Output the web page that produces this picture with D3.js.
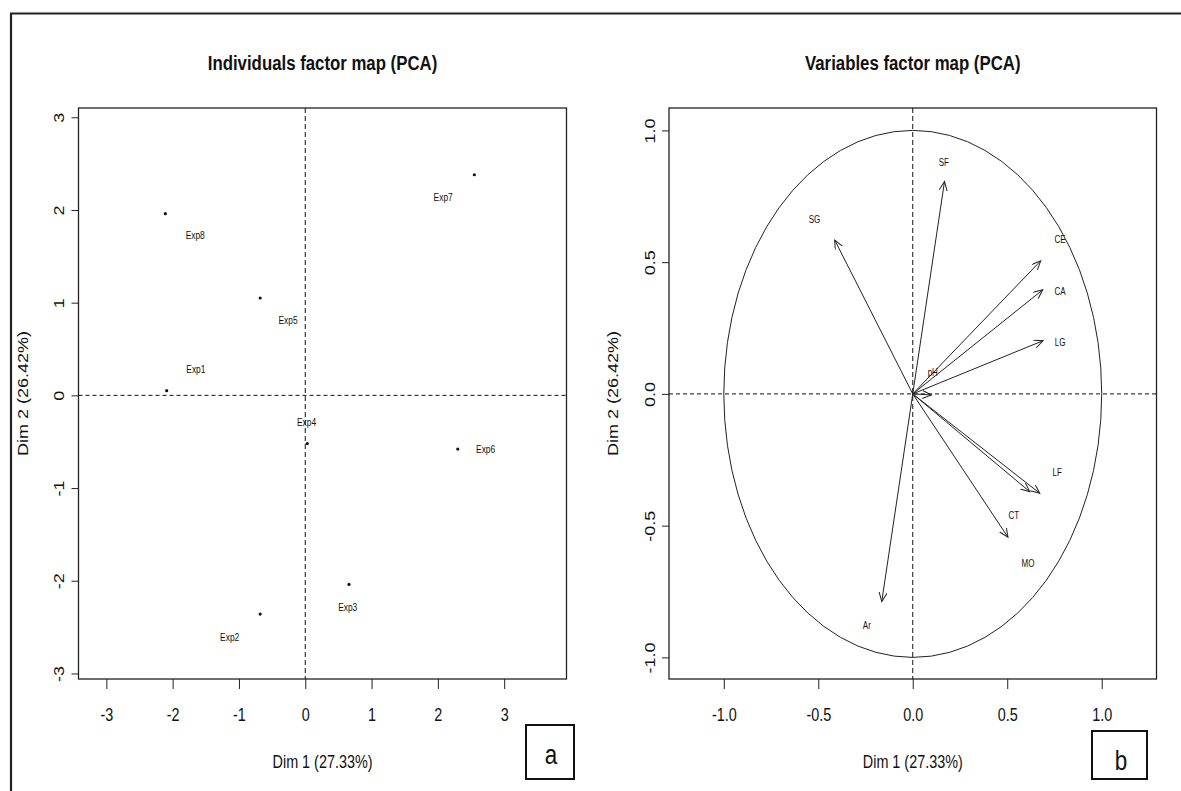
<!DOCTYPE html>
<html>
<head>
<meta charset="utf-8">
<script src="https://cdn.jsdelivr.net/npm/d3@7"></script>
<style>
  body { margin: 0; background: #fff; }
  text { font-family: "Liberation Sans", Arial, sans-serif; fill: #111; }
</style>
</head>
<body>
<div id="chart"></div>
<script>

//********************* DATA ************************************

// individuals (Dim 1, Dim 2) and where their labels sit, in data units
var indNames  = ["Exp1", "Exp2", "Exp3", "Exp4", "Exp5", "Exp6", "Exp7", "Exp8"];
var indDim1   = [-2.09, -0.68,  0.66,  0.03, -0.68,  2.30,  2.55, -2.11];
var indDim2   = [ 0.05, -2.36, -2.04, -0.52,  1.05, -0.58,  2.38,  1.96];
var indLabelX = [-1.65, -1.14,  0.64,  0.02, -0.26,  2.72,  2.08, -1.66];
var indLabelY = [ 0.28, -2.61, -2.29, -0.29,  0.81, -0.58,  2.14,  1.73];

// variables (correlation with Dim 1, Dim 2) and label spots
var varNames  = ["SF",  "SG",   "CE",  "CA",  "LG",  "pH",   "LF",   "CT",   "MO",   "Ar"];
var varDim1   = [0.168, -0.413, 0.677, 0.688, 0.690, 0.099,  0.672,  0.619,  0.504, -0.164];
var varDim2   = [0.806,  0.584, 0.505, 0.395, 0.202, -0.004, -0.377, -0.371, -0.544, -0.788];
var varLabelX = [0.164, -0.520, 0.780, 0.780, 0.780, 0.106,  0.764,  0.535,  0.610, -0.243];
var varLabelY = [0.880,  0.660, 0.585, 0.390, 0.196, 0.080,  -0.300, -0.463, -0.645, -0.880];

var indTicks = [-3, -2, -1, 0, 1, 2, 3];
var varTicks = [-1.0, -0.5, 0.0, 0.5, 1.0];

var xLabel = "Dim 1 (27.33%)";
var yLabel = "Dim 2 (26.42%)";


//********************* DIMENSIONS ************************************

var width = 1181,
    height = 791,
    squeeze = 0.8;   // the source picture is narrower than R drew it

var svg = d3.select("#chart").append("svg")
    .attr("width", width)
    .attr("height", height);

// outer frame (only the top and left edges show)
svg.append("path")
    .attr("d", "M11,791 L11,13.5 L1181,13.5")
    .attr("fill", "none")
    .attr("stroke", "#222")
    .attr("stroke-width", 2.2);

function hText(g, x, y, txt, size) {
  return g.append("text")
      .attr("transform", "translate(" + x + "," + y + ") scale(" + squeeze + ",1)")
      .attr("text-anchor", "middle")
      .attr("font-size", size)
      .text(txt);
}

// box, axes, dashed zero lines, titles
function frame(g, x, y, ticks, fmt, title) {
  var x0 = x.range()[0], x1 = x.range()[1],
      y0 = y.range()[1], y1 = y.range()[0],
      cx = (x0 + x1) / 2, cy = (y0 + y1) / 2;

  g.append("rect")
      .attr("x", x0).attr("y", y0)
      .attr("width", x1 - x0).attr("height", y1 - y0)
      .attr("fill", "none")
      .attr("stroke", "#222")
      .attr("stroke-width", 1.3);

  var xa = g.append("g")
      .attr("transform", "translate(0," + y1 + ")")
      .call(d3.axisBottom(x).tickValues(ticks).tickSize(10).tickFormat(fmt));
  xa.select(".domain").remove();
  xa.selectAll("line").attr("stroke", "#222");
  xa.selectAll("text")
      .attr("y", 42).attr("dy", null)
      .attr("font-size", 18)
      .attr("transform", "scale(" + squeeze + ",1)");

  var ya = g.append("g")
      .attr("transform", "translate(" + x0 + ",0)")
      .call(d3.axisLeft(y).tickValues(ticks).tickSize(7).tickFormat(fmt));
  ya.select(".domain").remove();
  ya.selectAll("line").attr("stroke", "#222");
  ya.selectAll("text")
      .attr("x", 0).attr("y", -18).attr("dy", null)
      .attr("text-anchor", "middle")
      .attr("font-size", 18)
      .attr("transform", "rotate(-90) scale(1," + squeeze + ")");

  // zero lines
  g.append("line")
      .attr("x1", x(0)).attr("x2", x(0))
      .attr("y1", y0).attr("y2", y1)
      .attr("stroke", "#111").attr("stroke-dasharray", "5,3");
  g.append("line")
      .attr("x1", x0).attr("x2", x1)
      .attr("y1", y(0)).attr("y2", y(0))
      .attr("stroke", "#111").attr("stroke-dasharray", "4,3");

  hText(g, cx, 70, title, 21).attr("font-weight", "bold");
  hText(g, cx, 768, xLabel, 18);

  g.append("text")
      .attr("transform", "translate(" + (x0 - 51) + "," + cy + ") rotate(-90) scale(1," + squeeze + ")")
      .attr("text-anchor", "middle")
      .attr("font-size", 18)
      .text(yLabel);
}

function tagBox(g, x, y, w, h, letter, tx, ty) {
  g.append("rect")
      .attr("x", x).attr("y", y).attr("width", w).attr("height", h)
      .attr("fill", "none").attr("stroke", "#111").attr("stroke-width", 2);
  hText(g, tx, ty, letter, 28);
}


//********************* INDIVIDUALS MAP ************************************

var xInd = d3.scaleLinear().domain([-3.42, 3.94]).range([78.5, 566.5]);
var yInd = d3.scaleLinear().domain([-3.06, 3.10]).range([679, 108]);

var gInd = svg.append("g");
frame(gInd, xInd, yInd, indTicks, function(d) { return String(d); },
      "Individuals factor map (PCA)");

gInd.selectAll(".pt")
    .data(indNames)
  .enter().append("circle")
    .attr("class", "pt")
    .attr("cx", function(d, i) { return xInd(indDim1[i]); })
    .attr("cy", function(d, i) { return yInd(indDim2[i]); })
    .attr("r", 1.6)
    .attr("fill", "#111");

gInd.selectAll(".lab")
    .data(indNames)
  .enter().append("text")
    .attr("class", "lab")
    .attr("transform", function(d, i) {
      return "translate(" + xInd(indLabelX[i]) + "," + yInd(indLabelY[i]) + ") scale(" + squeeze + ",1)";
    })
    .attr("text-anchor", "middle")
    .attr("dy", "0.35em")
    .attr("font-size", 10.5)
    .text(function(d) { return d; });

tagBox(gInd, 526, 725, 48, 54, "a", 551, 764);


//********************* VARIABLES MAP ************************************

var xVar = d3.scaleLinear().domain([-1.29, 1.29]).range([669, 1156.5]);
var yVar = d3.scaleLinear().domain([-1.082, 1.085]).range([679, 108]);

var gVar = svg.append("g");
frame(gVar, xVar, yVar, varTicks, function(d) { return d.toFixed(1); },
      "Variables factor map (PCA)");

// correlation circle
gVar.append("ellipse")
    .attr("cx", xVar(0)).attr("cy", yVar(0))
    .attr("rx", xVar(1) - xVar(0))
    .attr("ry", yVar(0) - yVar(1))
    .attr("fill", "none")
    .attr("stroke", "#222")
    .attr("stroke-width", 1);

svg.append("defs").append("marker")
    .attr("id", "head")
    .attr("markerUnits", "userSpaceOnUse")
    .attr("markerWidth", 12).attr("markerHeight", 10)
    .attr("refX", 9).attr("refY", 4)
    .attr("orient", "auto")
  .append("path")
    .attr("d", "M0,0 L9,4 L0,8")
    .attr("fill", "none")
    .attr("stroke", "#222")
    .attr("stroke-width", 1);

gVar.selectAll(".arrow")
    .data(varNames)
  .enter().append("line")
    .attr("class", "arrow")
    .attr("x1", xVar(0)).attr("y1", yVar(0))
    .attr("x2", function(d, i) { return xVar(varDim1[i]); })
    .attr("y2", function(d, i) { return yVar(varDim2[i]); })
    .attr("stroke", "#222")
    .attr("stroke-width", 1)
    .attr("marker-end", "url(#head)");

gVar.selectAll(".vlab")
    .data(varNames)
  .enter().append("text")
    .attr("class", "vlab")
    .attr("transform", function(d, i) {
      return "translate(" + xVar(varLabelX[i]) + "," + yVar(varLabelY[i]) + ") scale(" + squeeze + ",1)";
    })
    .attr("text-anchor", "middle")
    .attr("dy", "0.35em")
    .attr("font-size", 10)
    .text(function(d) { return d; });

tagBox(gVar, 1092, 731, 55, 48, "b", 1121, 770);

</script>
</body>
</html>
